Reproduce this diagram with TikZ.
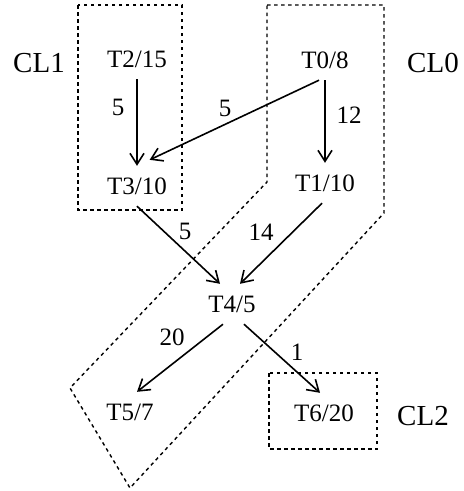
\documentclass[tikz,border=0pt]{standalone}
\usepackage{fontspec}
\setmainfont{Liberation Serif}
\usetikzlibrary{arrows.meta}

\begin{document}
\begin{tikzpicture}[x=1pt, y=-1pt, arro/.style = {-{Straight Barb[length=11pt,width=14pt]}, line width=1.6pt}]

\tikzstyle{task} = [font=\fontsize{25}{30}\selectfont, text height=17pt, text depth=0pt, inner xsep=4pt, inner ysep=11.5pt]
\tikzstyle{cost} = [font=\fontsize{25}{30}\selectfont, inner sep=0pt]
\tikzstyle{clus} = [font=\fontsize{29}{34}\selectfont, inner sep=0pt]
\tikzstyle{border} = [line width=1.4pt, dash pattern=on 3.5pt off 3.5pt]

\useasboundingbox (0,0) rectangle (464,491);

% clusters
\draw[border] (78,5) rectangle (182,210);
\draw[border] (267,5) -- (384,5) -- (384,213) -- (130,488) -- (70,388) -- (267,182) -- cycle;
\draw[border] (269,373) rectangle (377,449);
\node[clus] at (39,63) (cl1) {CL1};
\node[clus] at (433,63) (cl0) {CL0};
\node[clus] at (423,416) (cl2) {CL2};
% tasks
\node[task] at (137,59) (t2) {T2/15};
\node[task] at (325,60) (t0) {T0/8};
\node[task] at (137,186) (t3) {T3/10};
\node[task] at (325,183) (t1) {T1/10};
\node[task] at (232,304) (t4) {T4/5};
\node[task] at (130,412) (t5) {T5/7};
\node[task] at (324,413) (t6) {T6/20};
% connections
\draw[arro] (t2) -- (t3);
\draw[arro] (t0) -- (t1);
\draw[arro, shorten >=14pt] ([xshift=-6pt]t0.south) -- (t3.north);
\draw[arro] (t3.south) -- ([xshift=-12pt]t4.north);
\draw[arro] ([xshift=-3pt]t1.south) -- ([xshift=8pt]t4.north);
\draw[arro] ([xshift=-9pt]t4.south) -- ([xshift=7pt]t5.north);
\draw[arro] ([xshift=12pt]t4.south) -- ([xshift=-4pt]t6.north);
% costs
\node[cost] at (118,107) (c23) {5};
\node[cost] at (225,108) (c03) {5};
\node[cost] at (349,115) (c01) {12};
\node[cost] at (185,231) (c34) {5};
\node[cost] at (261,232) (c14) {14};
\node[cost] at (172,337) (c45) {20};
\node[cost] at (297,352) (c46) {1};
\end{tikzpicture}
\end{document}
